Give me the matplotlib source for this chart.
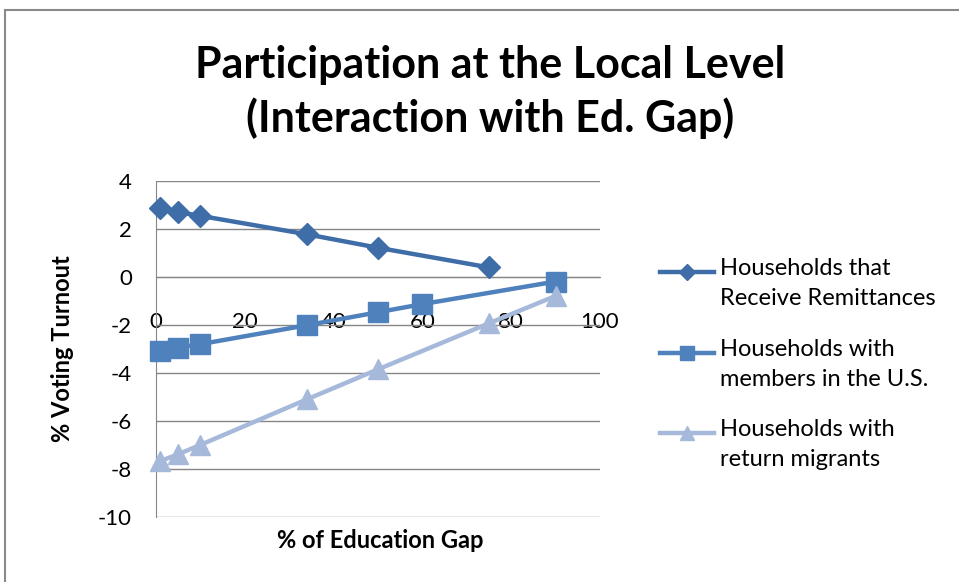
import matplotlib
matplotlib.use("Agg")
import matplotlib.pyplot as plt
from matplotlib.patches import Rectangle
from matplotlib.lines import Line2D

plt.rcParams['font.family'] = ['Lato', 'DejaVu Sans']
plt.rcParams['axes.unicode_minus'] = False

# Data
x_remit = [1, 5, 10, 34, 50, 75]
y_remit = [2.89, 2.70, 2.55, 1.78, 1.22, 0.40]

x_us = [1, 5, 10, 34, 50, 60, 90]
y_us = [-3.08, -2.94, -2.80, -2.01, -1.47, -1.13, -0.19]

x_ret = [1, 5, 10, 34, 50, 75, 90]
y_ret = [-7.67, -7.39, -7.00, -5.10, -3.85, -1.93, -0.79]

labels = ["Households that\nReceive Remittances",
          "Households with\nmembers in the U.S.",
          "Households with\nreturn migrants"]
xticks = [0, 20, 40, 60, 80, 100]
yticks = [4, 2, 0, -2, -4, -6, -8, -10]

W, H = 959, 582
fig = plt.figure(figsize=(W / 100, H / 100), dpi=100)

# outer frame
fig.patches.append(Rectangle((5 / W, -0.1), 1.2, 1 - 10 / H + 0.1,
                             transform=fig.transFigure, fill=False,
                             edgecolor='#8a8a8a', linewidth=1.5))

l, r, t, b = 155.7, 600, 181, 517
ax = fig.add_axes([l / W, 1 - b / H, (r - l) / W, (b - t) / H])

grid_c = '#868686'
ax.set_xlim(0, 100)
ax.set_ylim(-10, 4)
ax.set_yticks(yticks)
ax.set_xticks(xticks)
ax.yaxis.grid(True, color=grid_c, linewidth=1.0)
ax.set_axisbelow(True)
for s in ['top', 'right']:
    ax.spines[s].set_visible(False)
ax.spines['left'].set_color(grid_c)
ax.spines['bottom'].set_position(('data', 0))
ax.spines['bottom'].set_color(grid_c)
ax.tick_params(axis='both', length=0, labelsize=16, colors='black')
ax.tick_params(axis='x', pad=25)
ax.tick_params(axis='y', pad=17)

c1, c2, c3 = '#3E6DA8', '#4F81BD', '#A6B9DB'
colors = [c1, c2, c3]
markers = ['D', 's', '^']
ax.plot(x_remit, y_remit, color=c1, lw=3.2, marker='D', markersize=11,
        clip_on=False, zorder=3)
ax.plot(x_us, y_us, color=c2, lw=3.2, marker='s', markersize=14,
        clip_on=False, zorder=3)
ax.plot(x_ret, y_ret, color=c3, lw=3.2, marker='^', markersize=14,
        clip_on=False, zorder=3)

# legend (handle aligned with first text line, as in the reference)
leg_y = [272, 353, 433]
msizes = [8, 10, 10]
for yy, lab, c, m, ms in zip(leg_y, labels, colors, markers, msizes):
    fy = 1 - yy / H
    fig.add_artist(Line2D([660 / W, 714 / W], [fy, fy], color=c, lw=3.2,
                          transform=fig.transFigure))
    fig.add_artist(Line2D([687 / W], [fy], color=c, marker=m, markersize=ms,
                          transform=fig.transFigure))
    fig.text(720 / W, fy + 14 / H, lab, ha='left', va='top', fontsize=17,
             linespacing=1.55)

fig.text(62 / W, 1 - 349 / H, '% Voting Turnout', rotation=90,
         ha='center', va='center', fontsize=17, fontweight='bold')
fig.text(380 / W, 1 - 540 / H, '% of Education Gap', ha='center',
         va='center', fontsize=17, fontweight='bold')
fig.text(490 / W, 1 - 92 / H,
         'Participation at the Local Level\n(Interaction with Ed. Gap)',
         ha='center', va='center', fontsize=31, fontweight='bold',
         linespacing=1.35)

fig.savefig('out.png', dpi=100)
